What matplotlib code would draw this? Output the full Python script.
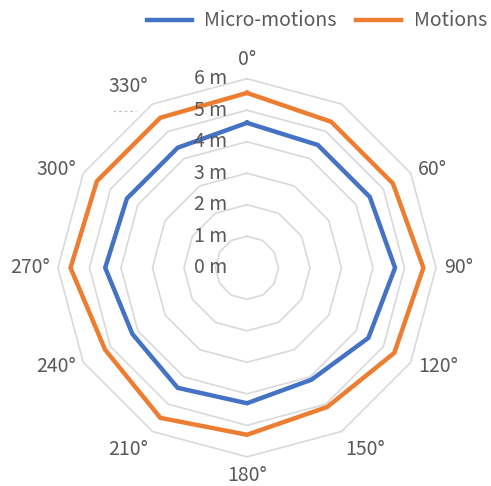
import numpy as np
import matplotlib
matplotlib.use("Agg")
import matplotlib.pyplot as plt
from matplotlib.lines import Line2D

plt.rcParams['font.family'] = ['Noto Sans CJK SC', 'DejaVu Sans']

angles_deg = [0, 30, 60, 90, 120, 150, 180, 210, 240, 270, 300, 330]
angle_labels = ["0°", "", "60°", "90°", "120°", "150°", "180°", "210°", "240°", "270°", "300°", "330°"]
micro_motions = [4.6, 4.5, 4.5, 4.7, 4.45, 4.1, 4.3, 4.4, 4.2, 4.5, 4.4, 4.4]
motions = [5.55, 5.35, 5.35, 5.6, 5.4, 5.1, 5.3, 5.5, 5.2, 5.6, 5.5, 5.5]
ring_values = [0, 1, 2, 3, 4, 5, 6]
ring_labels = ["0 m", "1 m", "2 m", "3 m", "4 m", "5 m", "6 m"]

BLUE = "#4472C4"
ORANGE = "#ED7D31"
GRID = "#D9D9D9"
TEXT = "#595959"
FS = 14

fig = plt.figure(figsize=(4.91, 4.86), dpi=100)
ax = fig.add_axes([0.118, 0.060, 0.770, 0.778], projection='polar')
ax.set_theta_zero_location('N')
ax.set_theta_direction(-1)
ax.set_ylim(0, 6)
ax.grid(False)
ax.spines['polar'].set_visible(False)
ax.set_xticks([])
ax.set_yticks([])
ax.patch.set_alpha(0)

theta = np.deg2rad(angles_deg)
theta_closed = np.append(theta, theta[0])

for r in ring_values[1:]:
    ax.plot(theta_closed, [r] * len(theta_closed), color=GRID, lw=1.2, zorder=1, clip_on=False)

def closed(v):
    return np.append(np.array(v, dtype=float), v[0])

ax.plot(theta_closed, closed(micro_motions), color=BLUE, lw=3.2, zorder=3,
        solid_joinstyle='miter', clip_on=False)
ax.plot(theta_closed, closed(motions), color=ORANGE, lw=3.2, zorder=3,
        solid_joinstyle='miter', clip_on=False)

for r, lab in zip(ring_values, ring_labels):
    ax.annotate(lab, xy=(0, r), xytext=(-14, 0), textcoords='offset points',
                ha='right', va='center', fontsize=FS, color=TEXT, zorder=4)

gap = 6.0  # points
rmax = ring_values[-1]
for t, lab in zip(theta, angle_labels):
    if not lab:
        continue
    s, c = np.sin(t), np.cos(t)
    ha = 'left' if s > 0.1 else ('right' if s < -0.1 else 'center')
    va = 'bottom' if c > 0.8 else ('top' if c < -0.8 else 'center')
    ax.annotate(lab, xy=(t, rmax), xytext=(gap * s, gap * c), textcoords='offset points',
                ha=ha, va=va, fontsize=FS, color=TEXT, annotation_clip=False)

# small dashed fragment below the 330° label
fig.add_artist(Line2D([113 / 491, 136 / 491], [1 - 111 / 486, 1 - 111 / 486],
                      color="#BFBFBF", lw=0.8, ls=(0, (2.5, 2.5))))

handles = [Line2D([0], [0], color=BLUE, lw=3.2), Line2D([0], [0], color=ORANGE, lw=3.2)]
fig.legend(handles, ["Micro-motions", "Motions"], loc='center right',
           bbox_to_anchor=(487 / 491, 1 - 21 / 486), ncol=2, frameon=False,
           prop={'size': FS}, labelcolor=TEXT, handlelength=2.3,
           columnspacing=1.0, handletextpad=0.65, borderpad=0, borderaxespad=0)

fig.savefig("out.png", dpi=100)
